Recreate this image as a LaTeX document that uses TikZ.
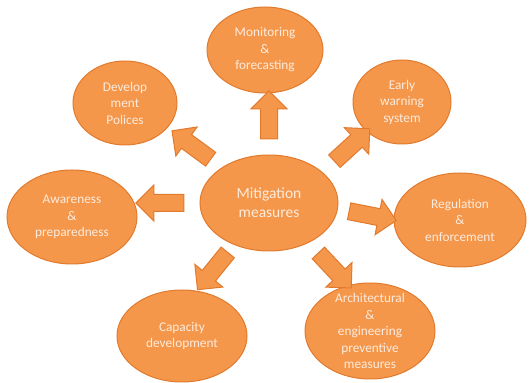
\documentclass[tikz,border=0pt]{standalone}
\usepackage{fontspec}
\setmainfont{Carlito}
\usetikzlibrary{shapes.geometric,shapes.arrows}
\definecolor{bubblefill}{HTML}{F4974B}
\definecolor{bubbleline}{HTML}{E27A2E}
\definecolor{bubbletext}{HTML}{FDEBDD}
\tikzset{
  bubble/.style={ellipse, draw=bubbleline, fill=bubblefill, line width=1pt, inner sep=0pt},
  txt/.style={text=bubbletext, align=center, font=\fontsize{13.3}{16.5}\selectfont},
  fatarrow/.style={single arrow, draw=bubbleline, fill=bubblefill, line width=1pt,
    inner xsep=0pt, inner ysep=8pt, minimum height=48pt,
    single arrow head extend=9.5pt, sloped, allow upside down}
}

\begin{document}
\begin{tikzpicture}[x=1pt,y=1pt]
\useasboundingbox (0,0) rectangle (531,383);
\node[bubble, minimum width=138pt, minimum height=96pt,
  label={[txt, font=\fontsize{15.5}{19}\selectfont]center:{Mitigation\\measures}}] (mit) at (269,180) {};
\node[bubble, minimum width=116pt, minimum height=86pt,
  label={[txt]center:{Monitoring\\\&\\forecasting}}] (mon) at (265,333) {};
\node[bubble, minimum width=104pt, minimum height=84pt,
  label={[txt]center:{Develop\\ment\\Polices}}] (dev) at (125,280) {};
\node[bubble, minimum width=98pt, minimum height=84pt,
  label={[txt]center:{Early\\warning\\system}}] (ews) at (402,281) {};
\node[bubble, minimum width=130pt, minimum height=94pt,
  label={[txt]center:{Awareness\\\&\\preparedness}}] (aware) at (72,166) {};
\node[bubble, minimum width=132pt, minimum height=94pt,
  label={[txt]center:{Regulation\\\&\\enforcement}}] (reg) at (460,163) {};
\node[bubble, minimum width=130pt, minimum height=92pt,
  label={[txt]center:{Capacity\\development}}] (cap) at (182,47) {};
\node[bubble, minimum width=130pt, minimum height=96pt,
  label={[txt]center:{Architectural\\\&\\engineering\\preventive\\measures}}] (arch) at (370,52) {};

% block arrows out of the middle
\path (mit.north) -- (mit.north |- mon.south) node[fatarrow, pos=.58] {};
\path (mit.west) -- (mit.west -| aware.east) node[fatarrow, pos=.57] {};
\path (mit.143) -- (dev.-30) node[fatarrow, midway] {};
\path (mit.30) -- (ews.-140) node[fatarrow, pos=.6] {};
\path (mit.-5) -- (reg.west) node[fatarrow, pos=.55] {};
\path (mit.230) -- (cap.72) node[fatarrow, midway] {};
\path (mit.-45) -- (arch.115) node[fatarrow, pos=.58] {};
\end{tikzpicture}
\end{document}
